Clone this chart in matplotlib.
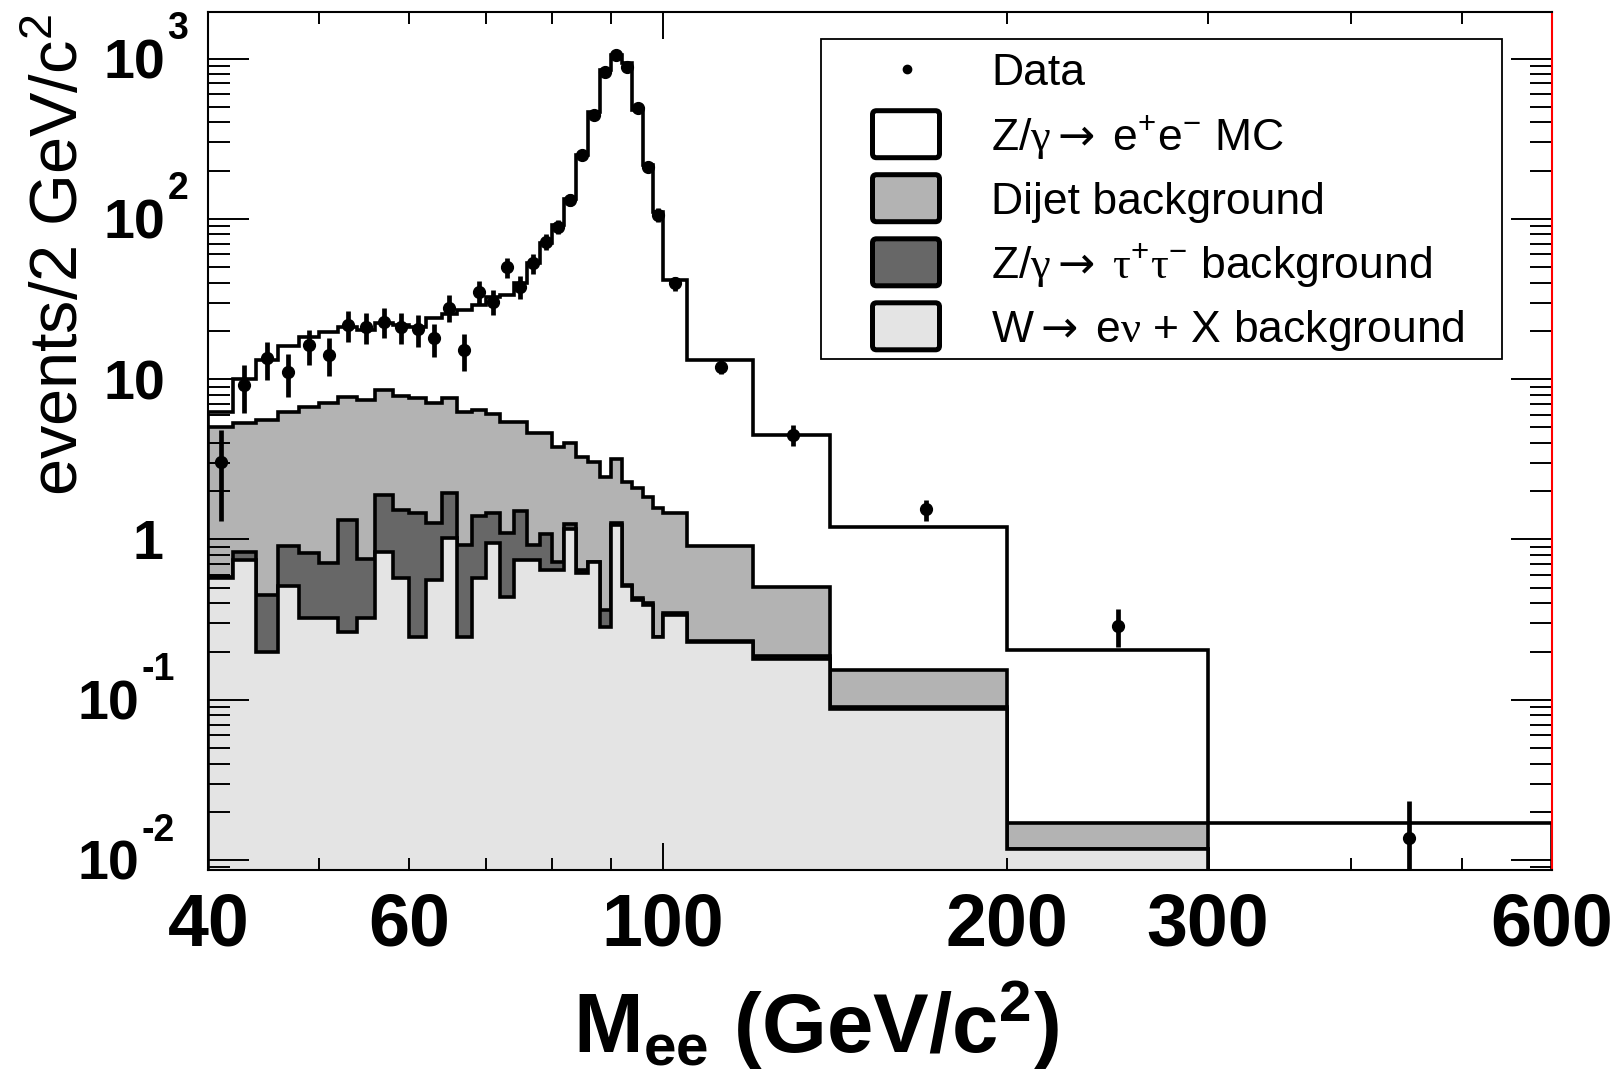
import numpy as np
import matplotlib
matplotlib.use("Agg")
import matplotlib.pyplot as plt
import matplotlib.transforms as mtransforms
from matplotlib.patches import Rectangle, FancyBboxPatch
from matplotlib.ticker import LogLocator

plt.rcParams.update({'font.family': ['Liberation Sans', 'DejaVu Sans']})
plt.rcParams.update({'mathtext.fontset': 'custom'})
plt.rcParams.update({'mathtext.rm': 'Liberation Sans'})
plt.rcParams.update({'mathtext.it': 'Liberation Sans:italic'})
plt.rcParams.update({'mathtext.bf': 'Liberation Sans:bold'})
plt.rcParams.update({'mathtext.sf': 'DejaVu Sans'})      # arrows
plt.rcParams.update({'mathtext.cal': 'Liberation Serif'})  # greek letters

# mass bins (GeV/c^2): 2 GeV up to 100, wider above
edges = list(range(40, 101, 2)) + [105, 120, 140, 200, 300, 600]

# contributions in events / 2 GeV/c^2, stacked W -> tautau -> dijet -> Z/gamma->ee
wenu = [0.575, 0.745, 0.20, 0.515, 0.322, 0.322, 0.266, 0.322, 0.84, 0.573,
        0.248, 0.559, 1.02, 0.248, 0.573, 0.947, 0.44, 0.745, 0.745, 0.645,
        0.645, 1.17, 0.615, 0.72, 0.286, 1.23, 0.51, 0.42, 0.39, 0.245,
        0.34, 0.228, 0.18, 0.088, 0.0118, 0]
ztautau = [0.005, 0.095, 0.25, 0.40, 0.50, 0.39, 1.05, 0.43, 1.06, 0.96,
           1.21, 0.70, 0.92, 0.68, 0.82, 0.51, 0.65, 0.77, 0.18, 0.43,
           0.08, 0.08, 0.03, 0.007, 0.077, 0.03, 0.01, 0.01, 0.01, 0.003,
           0.006, 0.006, 0.0075, 0.0026, 0, 0]
dijet = [4.42, 4.52, 5.11, 5.36, 5.92, 6.36, 6.46, 6.66, 6.67, 6.32,
         6.14, 5.87, 5.66, 5.35, 5.04, 4.61, 4.34, 3.92, 3.67, 3.52,
         3.06, 2.77, 2.64, 2.33, 2.08, 1.92, 1.78, 1.66, 1.45, 1.32,
         1.12, 0.681, 0.32, 0.062, 0.0052, 0]
zee_mc = [1.2, 4.7, 7.6, 9.8, 11.7, 12.5, 13.5, 12.9, 13.9, 14.0,
          13.7, 16.9, 17.9, 20.7, 22.7, 26.6, 28.1, 34.3, 48.3, 65.8,
          87.8, 130, 247, 464, 847, 1049, 933, 476, 215, 109,
          40.1, 12.3, 3.98, 1.05, 0.188, 0.017]

data_x = [41, 43, 45, 47, 49, 51, 53, 55, 57, 59, 61, 63, 65, 67, 69, 71, 73, 75,
          77, 79, 81, 83, 85, 87, 89, 91, 93, 95, 97, 99,
          102.5, 112.5, 130, 170, 250, 450]
data_y = [3.06, 9.2, 13.5, 11.1, 16.3, 14.2, 21.8, 21.3, 22.9, 21.3, 20.5, 18.0,
          28.0, 15.2, 35.1, 30.5, 49.9, 37.8, 52.9, 72.1, 89.4, 131, 250, 445,
          828, 1052, 891, 490, 212, 106,
          39.7, 12.0, 4.5, 1.54, 0.29, 0.0137]
data_err = [1.75, 3.03, 3.67, 3.33, 4.04, 3.77, 4.67, 4.62, 4.79, 4.62, 4.53, 4.24,
            5.29, 3.90, 5.92, 5.52, 7.06, 6.15, 7.27, 8.49, 9.46, 11.4, 15.8, 21.1,
            28.8, 32.4, 29.8, 22.1, 14.6, 10.3,
            4.0, 1.27, 0.67, 0.23, 0.076, 0.0096]

W, H = 1619, 1074
fig = plt.figure(figsize=(W / 100, H / 100), dpi=100)
ax = fig.add_axes([208.3 / W, 1 - 870.4 / H, (1552 - 208.3) / W, (870.4 - 11.7) / H])

w_top = np.array(wenu)
tau_top = w_top + np.array(ztautau)
dijet_top = tau_top + np.array(dijet)
total = dijet_top + np.array(zee_mc)

hist_lw = 2.6
base = 1e-5
ax.stairs(total, edges, fill=True, baseline=base, facecolor='white', edgecolor='black', lw=hist_lw, zorder=1)
ax.stairs(dijet_top, edges, fill=True, baseline=base, facecolor='#b3b3b3', edgecolor='black', lw=hist_lw, zorder=1.1)
ax.stairs(tau_top, edges, fill=True, baseline=base, facecolor='#676767', edgecolor='black', lw=hist_lw, zorder=1.2)
ax.stairs(w_top, edges, fill=True, baseline=base, facecolor='#e4e4e4', edgecolor='black', lw=hist_lw, zorder=1.3)

ax.errorbar(data_x, data_y, yerr=data_err, fmt='o', color='black', ms=8.5,
            elinewidth=3.4, capsize=0, zorder=5)

ax.set_xscale('log')
ax.set_yscale('log')
ax.set_xlim(40, 600)
ax.set_ylim(0.008623, 1962)

# x axis: one decade tick at 100, labelled minor ticks
ax.set_xticks([100], ['100'], fontsize=53, fontweight='bold')
minor_x = [40, 50, 60, 70, 80, 90, 200, 300, 400, 500, 600]
minor_lab = ['40', '', '60', '', '', '', '200', '300', '', '', '600']
ax.set_xticks(minor_x, minor_lab, minor=True, fontsize=53, fontweight='bold')
ax.tick_params(axis='x', which='major', direction='in', length=19.4, width=1.4,
               top=True, bottom=True, pad=15)
ax.tick_params(axis='x', which='minor', direction='in', length=8.5, width=1.4,
               top=True, bottom=True, pad=15)

ax.yaxis.set_major_locator(LogLocator(base=10, numticks=20))
ax.yaxis.set_minor_locator(LogLocator(base=10, subs=np.arange(2, 10), numticks=50))
ax.tick_params(axis='y', which='major', direction='in', length=29.5, width=1.4,
               left=True, right=True, labelleft=False)
ax.tick_params(axis='y', which='minor', direction='in', length=15.8, width=1.4,
               left=True, right=True, labelleft=False)

for s in ax.spines.values():
    s.set_linewidth(1.5)
ax.spines['right'].set_color('red')

# y labels written as base + exponent
decades = [1000, 100, 10, 1, 0.1, 0.01]
bases = ['10', '10', '10', '1', '10', '10']
exps = ['3', '2', '', '', '-1', '-2']
shift = [31, 31, 31, 32.4, 49.7, 49.7]
ytr = mtransforms.blended_transform_factory(ax.transAxes, ax.transData)
for v, b, e, dx in zip(decades, bases, exps, shift):
    tb = mtransforms.offset_copy(ytr, fig=fig, x=-dx, y=-14.3, units='points')
    ax.text(0, v, b, transform=tb, ha='right', va='baseline', fontsize=40,
            fontweight='bold', clip_on=False)
    if e:
        te = mtransforms.offset_copy(ytr, fig=fig, x=-dx + 1.5, y=14, units='points')
        ax.text(0, v, e, transform=te, ha='left', va='baseline', fontsize=27,
                fontweight='bold', clip_on=False)

fig.text(78.5 / W, 1 - 14.5 / H, r'events/2 GeV/c$^{2}$', fontsize=48, rotation=90,
         rotation_mode='anchor', ha='right', va='baseline')
fig.text(816 / W, 1 - 1053 / H, r'M$_{\mathbf{ee}}$ (GeV/c$^{\mathbf{2}}$)', fontsize=60,
         fontweight='bold', ha='center', va='baseline')

# legend box, in pixel units
L, R, T, B = 821, 1502, 39, 359
lax = fig.add_axes([L / W, 1 - B / H, (R - L) / W, (B - T) / H])
lax.set_xlim(L, R)
lax.set_ylim(B, T)
lax.axis('off')
lax.add_patch(Rectangle((L, T), R - L, B - T, fill=False, lw=1.3, edgecolor='black', clip_on=False))

arrow = r'$\mathsf{{\rightarrow}}\;$'
labels = ['Data',
          r'Z/$\mathcal{\gamma}$' + arrow + r'e$^{+}$e$^{-}$ MC',
          'Dijet background',
          r'Z/$\mathcal{\gamma}$' + arrow + r'$\mathcal{\tau}^{+}\mathcal{\tau}^{-}$ background',
          'W' + arrow + r'e$\mathcal{\nu}$ + X background']
rows = [69.2, 134.2, 198.2, 262.3, 326.3]
fills = [None, 'white', '#b3b3b3', '#676767', '#e4e4e4']
lax.plot([906.5], [rows[0]], 'o', color='black', ms=6)
for cy, col in zip(rows[1:], fills[1:]):
    r = 4
    lax.add_patch(FancyBboxPatch((872.5 + r, cy - 23.5 + r), 67 - 2 * r, 47 - 2 * r,
                                 boxstyle='round,pad=%g,rounding_size=%g' % (r, r),
                                 facecolor=col, edgecolor='black', lw=3.6))
for cy, lab in zip(rows, labels):
    lax.text(991, cy + 15.9, lab, fontsize=32, ha='left', va='baseline')

fig.savefig('out.png', dpi=100)
